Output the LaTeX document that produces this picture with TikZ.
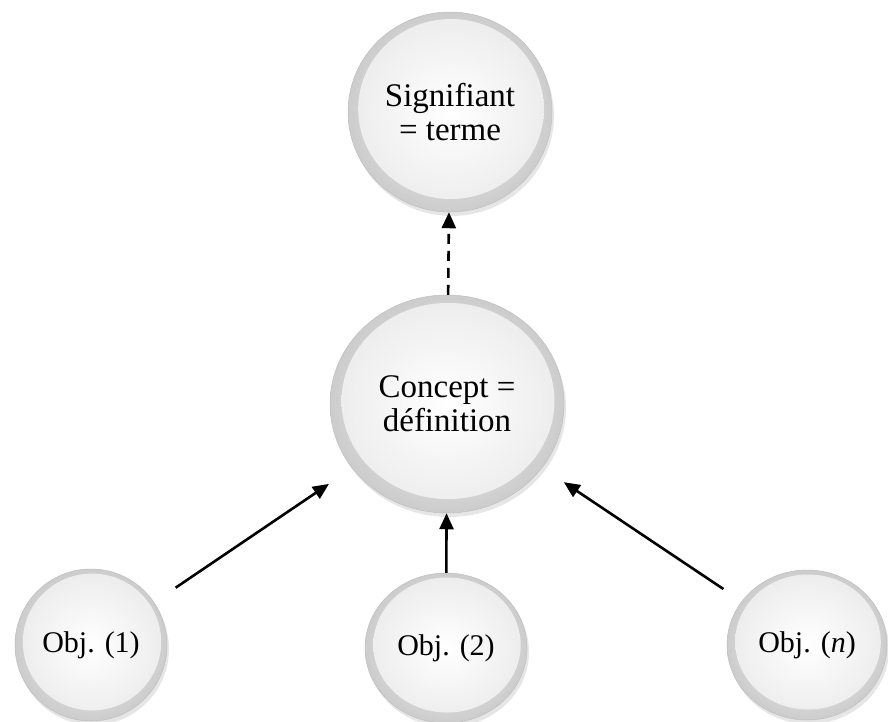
\documentclass[tikz,border=0pt]{standalone}
\usepackage{fontspec}
\setmainfont{Liberation Serif}
\usetikzlibrary{shapes.geometric,shadows,arrows.meta}
\tikzset{
  bouton/.style 2 args={ellipse, inner sep=0pt, minimum width=2*#1, minimum height=2*#2,
    draw=gray!50, line width=0.5pt,
    shading=radial, inner color=gray!5, outer color=gray!40,
    drop shadow={opacity=0.2, shadow xshift=2pt, shadow yshift=-4pt},
    path picture={\shade[inner color=white, outer color=gray!15]
      ([xshift=1pt,yshift=3pt]path picture bounding box.center) ellipse [x radius=0.91*#1, y radius=0.9*#2];},
    align=center, font=\fontsize{33}{34}\selectfont},
  petit/.style={font=\fontsize{30}{32}\selectfont},
  fleche/.style={-{Triangle[length=16pt,width=14pt]}, line width=2.6pt},
}
\begin{document}
\begin{tikzpicture}[x=1pt,y=-1pt]
\useasboundingbox (0,0) rectangle (888,722);
\node[bouton={102pt}{100pt}] at (450,112) (signifiant) {Signifiant\\= terme};
\node[bouton={117pt}{109pt}] at (447,404) (concept) {Concept =\\définition};
\node[bouton={76pt}{76pt}, petit] at (91,645) (obj1) {Obj. (1)};
\node[bouton={81pt}{75pt}, petit] at (446,648) (obj2) {Obj. (2)};
\node[bouton={80pt}{75pt}, petit] at (807,645) (objn) {Obj. (\textit{n})};

\draw[fleche, dash pattern=on 10pt off 7pt] (concept) -- (signifiant);
\draw[fleche] (obj2) -- (concept);
\draw[fleche, shorten <=26pt, shorten >=28pt] (obj1) -- (concept);
\draw[fleche, shorten <=22pt, shorten >=26pt] (objn) -- (concept);
\end{tikzpicture}
\end{document}
